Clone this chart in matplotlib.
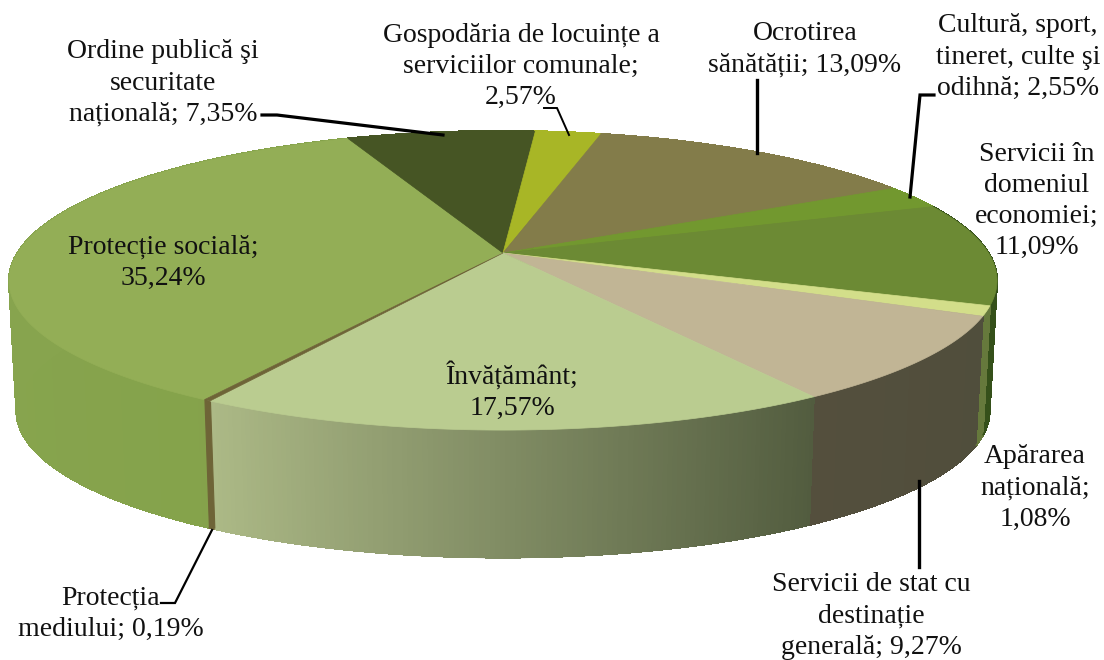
import numpy as np
import matplotlib
matplotlib.use("Agg")
import matplotlib.pyplot as plt
from matplotlib.collections import PolyCollection
from matplotlib.colors import to_rgb

# ---- data (clockwise, starting at the first slice) ----
categories = ["Protecție socială", "Ordine publică şi securitate națională",
              "Gospodăria de locuințe a serviciilor comunale", "Ocrotirea sănătății",
              "Cultură, sport, tineret, culte şi odihnă", "Servicii în domeniul economiei",
              "Apărarea națională", "Servicii de stat cu destinație generală",
              "Învățământ", "Protecția mediului"]
values = [35.24, 7.35, 2.57, 13.09, 2.55, 11.09, 1.08, 9.27, 17.57, 0.19]
top_colors = ["#93ae56", "#465524", "#a8b626", "#837c4a", "#72982f",
              "#6c8a34", "#d3de8a", "#c1b595", "#bacc90", "#6e6437"]
side_left = ["#87a44e", "#465524", "#a8b626", "#837c4a", "#72982f",
             "#35501a", "#66793c", "#544f3d", "#acb986", "#6e6437"]
side_right = ["#84a24a", "#465524", "#a8b626", "#837c4a", "#72982f",
              "#35501a", "#66793c", "#504e3c", "#525c3f", "#6e6437"]
labels = ["Protecție socială;\n35,24%", "Ordine publică şi\nsecuritate\nnațională; 7,35%",
          "Gospodăria de locuințe a\nserviciilor comunale;\n2,57%", "Ocrotirea\nsănătății; 13,09%",
          "Cultură, sport,\ntineret, culte şi\nodihnă; 2,55%", "Servicii în\ndomeniul\neconomiei;\n11,09%",
          "Apărarea\nnațională;\n1,08%", "Servicii de stat cu\ndestinație\ngenerală; 9,27%",
          "Învățământ;\n17,57%", "Protecția\nmediului; 0,19%"]
label_xy = [(163, 263), (163, 83), (521, 66.5), (805, 49), (1018, 57), (1037, 201),
            (1035, 488), (871, 616), (512, 391), (111, 614)]
leaders = [None,
           [(262, 115), (277, 115), (443, 135)],
           [(544, 108), (557, 108), (569, 135)],
           [(757, 80), (757, 153)],
           [(934, 95), (920, 95), (910, 197)],
           None, None,
           [(919, 481), (919, 567)],
           None,
           [(161, 603), (175, 603), (212, 530)]]
leader_w = [0, 2.3, 1.4, 2.4, 2.3, 0, 0, 2.4, 0, 1.6]

# ---- projection of the tilted disc ----
START = 238.8
CX, CY, R, S, K = 503.0, 253.0, 485.6, 144.5, 0.184
BASE_CY, FX, FY = 384.0, 0.985, 0.98


def project(theta, cy=CY, fx=1.0, fy=1.0):
    u, v = np.cos(np.radians(theta)), np.sin(np.radians(theta))
    w = 1 + K * v
    return CX + fx * R * u / w, cy - fy * S * v / w


def arc(a, b, step=0.4):
    return np.linspace(a, b, max(2, int(abs(b - a) / step) + 1))


plt.rcParams["font.family"] = ["Liberation Serif", "DejaVu Serif"]
fig = plt.figure(figsize=(11.04, 6.6), dpi=100, facecolor="white")
ax = fig.add_axes([0, 0, 1, 1])
ax.set_xlim(0, 1104)
ax.set_ylim(660, 0)
ax.axis("off")

angles = START - np.concatenate([[0], np.cumsum(values)]) * 3.6

# side wall, as strips shaded left to right
for i in range(len(values)):
    th = arc(angles[i], angles[i + 1], 0.5)
    xt, yt = project(th)
    xb, yb = project(th, BASE_CY, FX, FY)
    u = np.cos(np.radians(th))
    t = (u - u.min()) / max(u.max() - u.min(), 1e-9)
    c0, c1 = np.array(to_rgb(side_left[i])), np.array(to_rgb(side_right[i]))
    polys, cols = [], []
    for j in range(len(th) - 1):
        polys.append([(xt[j], yt[j]), (xt[j + 1], yt[j + 1]), (xb[j + 1], yb[j + 1]), (xb[j], yb[j])])
        tm = (t[j] + t[j + 1]) / 2
        cols.append(tuple(c0 + (c1 - c0) * tm))
    ax.add_collection(PolyCollection(polys, facecolors=cols, edgecolors=cols, linewidths=0.8,
                                     antialiaseds=False, zorder=2))
    # smooth the visible lower rim
    for j in range(len(th) - 1):
        if np.sin(np.radians(th[j])) < -K:
            ax.plot(xb[j:j + 2], yb[j:j + 2], color=cols[j], lw=1.0, zorder=2.5,
                    solid_capstyle="round")

# top face
for i in range(len(values)):
    x, y = project(arc(angles[i], angles[i + 1]))
    ax.fill(np.r_[CX, x], np.r_[CY, y], facecolor=top_colors[i], edgecolor=top_colors[i],
            linewidth=0.5, zorder=3)

# leaders and labels
for pts in [(p, w) for p, w in zip(leaders, leader_w) if p]:
    xs, ys = zip(*pts[0])
    ax.plot(xs, ys, color="black", lw=pts[1], solid_joinstyle="miter", zorder=4)
for text, (x, y) in zip(labels, label_xy):
    ax.text(x, y, text, ha="center", va="center", multialignment="center",
            fontsize=20, linespacing=1.33, color="#111111", zorder=5)

fig.savefig("out.png", dpi=100)
